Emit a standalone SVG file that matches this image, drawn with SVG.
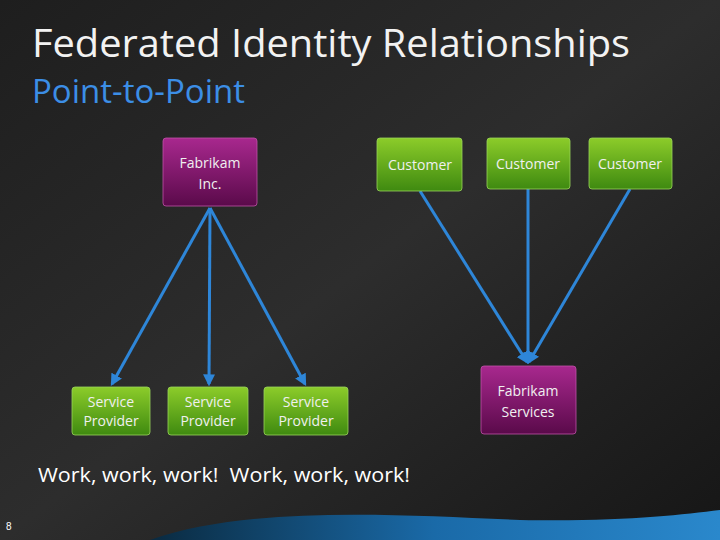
<svg xmlns="http://www.w3.org/2000/svg" width="720" height="540" viewBox="0 0 720 540">
<defs>
<linearGradient id="bg" x1="0" y1="0" x2="1" y2="1"><stop offset="0" stop-color="#1e1e1e"/><stop offset="0.5" stop-color="#2d2d2d"/><stop offset="1" stop-color="#161616"/></linearGradient>
<linearGradient id="g" x1="0" y1="0" x2="0" y2="1"><stop offset="0" stop-color="#8ccc2a"/><stop offset="1" stop-color="#3f8a10"/></linearGradient>
<linearGradient id="p" x1="0" y1="0" x2="0" y2="1"><stop offset="0" stop-color="#a8288e"/><stop offset="1" stop-color="#5a0a4a"/></linearGradient>
<linearGradient id="w" x1="0" y1="0" x2="1" y2="0"><stop offset="0" stop-color="#0a2a40"/><stop offset="0.5" stop-color="#1a6aa8"/><stop offset="1" stop-color="#2a88cc"/></linearGradient>
<marker id="a" viewBox="0 0 10 10" refX="8" refY="5" markerWidth="4" markerHeight="4" orient="auto"><path d="M0,0L10,5L0,10z" fill="#2e86d8"/></marker>
<style>
.g{fill:url(#g);stroke:#9ad45a;stroke-width:0.8}
.p{fill:url(#p);stroke:#c050a8;stroke-width:0.8}
.t{font-family:"Open Sans","Liberation Sans",sans-serif;font-size:14px;fill:#f0f0f0;text-anchor:middle}
.c{stroke:#2e86d8;stroke-width:3;fill:none;marker-end:url(#a)}
</style>
</defs>
<rect width="720" height="540" fill="url(#bg)"/>
<path d="M150,540 C250,505 400,515 520,520 C620,522 680,515 720,510 L720,540z" fill="url(#w)"/>
<text x="32" y="57" font-family="Open Sans,Liberation Sans,sans-serif" font-size="38" fill="#f2f2f2" textLength="598" lengthAdjust="spacingAndGlyphs">Federated Identity Relationships</text>
<text x="32" y="103" font-family="Open Sans,Liberation Sans,sans-serif" font-size="32" fill="#3c8ee6" textLength="213" lengthAdjust="spacingAndGlyphs">Point-to-Point</text>
<g id="connectors">
<line class="c" x1="210" y1="208" x2="112" y2="384"/>
<line class="c" x1="210" y1="208" x2="209" y2="384"/>
<line class="c" x1="210" y1="208" x2="305" y2="384"/>
<line class="c" x1="420" y1="191" x2="527" y2="362"/>
<line class="c" x1="528" y1="189" x2="528" y2="362"/>
<line class="c" x1="630" y1="189" x2="529" y2="362"/>
</g>
<g id="fabrikam-inc"><rect class="p" x="163" y="138" width="94" height="68" rx="3"/><text class="t" x="210" y="168">Fabrikam</text><text class="t" x="210" y="189">Inc.</text></g>
<g id="sp1"><rect class="g" x="72" y="387" width="78" height="48" rx="3"/><text class="t" x="111" y="407">Service</text><text class="t" x="111" y="426">Provider</text></g>
<g id="sp2"><rect class="g" x="168" y="387" width="80" height="48" rx="3"/><text class="t" x="208" y="407">Service</text><text class="t" x="208" y="426">Provider</text></g>
<g id="sp3"><rect class="g" x="264" y="387" width="84" height="48" rx="3"/><text class="t" x="306" y="407">Service</text><text class="t" x="306" y="426">Provider</text></g>
<g id="c1"><rect class="g" x="377" y="138" width="85" height="53" rx="3"/><text class="t" x="420" y="170">Customer</text></g>
<g id="c2"><rect class="g" x="487" y="138" width="83" height="51" rx="3"/><text class="t" x="528" y="169">Customer</text></g>
<g id="c3"><rect class="g" x="589" y="138" width="83" height="51" rx="3"/><text class="t" x="630" y="169">Customer</text></g>
<g id="fabrikam-services"><rect class="p" x="481" y="366" width="95" height="68" rx="3"/><text class="t" x="528" y="396">Fabrikam</text><text class="t" x="528" y="417">Services</text></g>
<text x="38" y="482" font-family="Open Sans,Liberation Sans,sans-serif" font-size="20" fill="#ffffff" xml:space="preserve" textLength="372" lengthAdjust="spacingAndGlyphs">Work, work, work!  Work, work, work!</text>
<text x="6" y="530" font-family="Liberation Sans,sans-serif" font-size="10" fill="#ffffff">8</text>
</svg>
